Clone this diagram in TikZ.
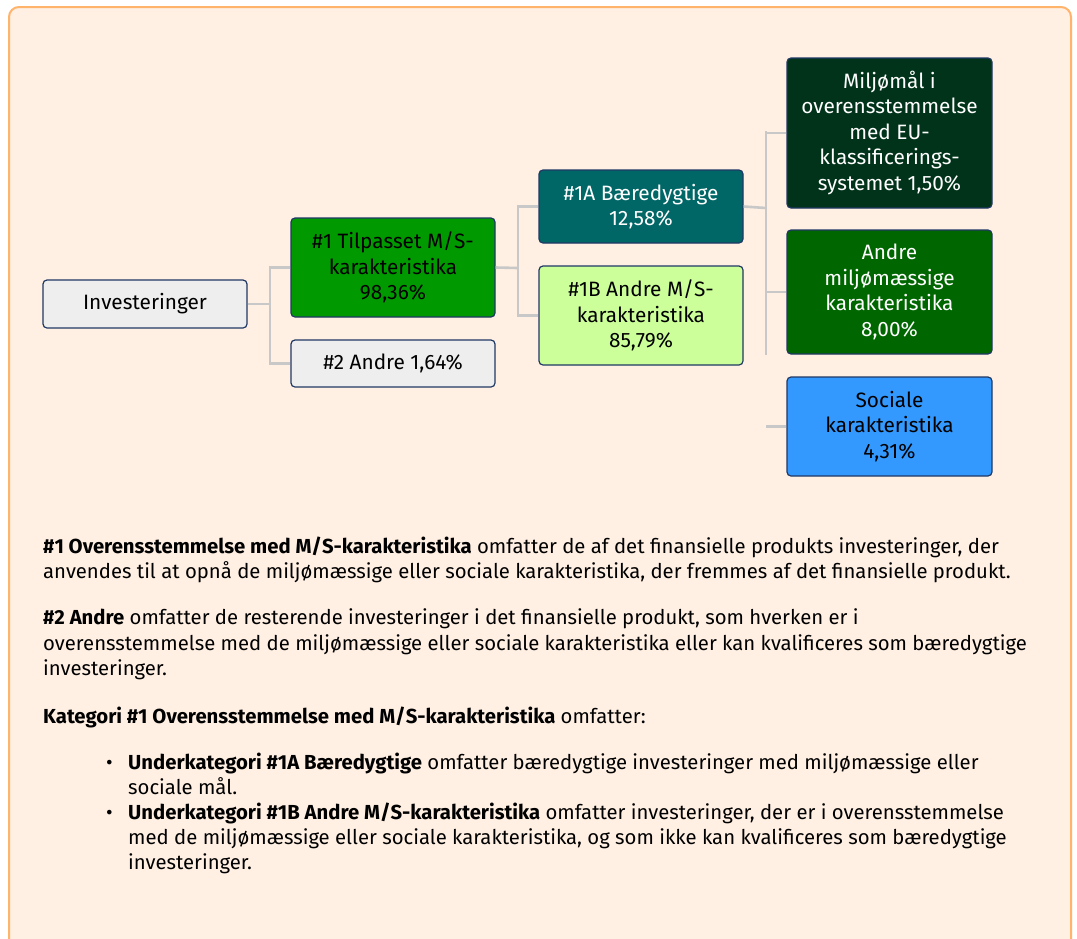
\documentclass[tikz,border=0pt]{standalone}
\usepackage{fontspec}
\setmainfont{Fira Sans}
\definecolor{frameborder}{HTML}{FFB36B}
\definecolor{framefill}{HTML}{FFF0E3}
\definecolor{conncol}{HTML}{C8C8C8}
\definecolor{boxborder}{HTML}{1F3864}
\definecolor{greybox}{HTML}{EEEEEE}
\definecolor{greenbox}{HTML}{009900}
\definecolor{tealbox}{HTML}{006666}
\definecolor{lightbox}{HTML}{CCFF99}
\definecolor{darkbox}{HTML}{003319}
\definecolor{midbox}{HTML}{006600}
\definecolor{bluebox}{HTML}{3399FF}
\tikzset{
  box/.style={draw=boxborder, line width=1.2pt, rounded corners=4pt, align=center,
    inner sep=0pt, font=\fontsize{20.8}{25.5}\selectfont},
  conn/.style={draw=conncol, line width=2.6pt},
  bodyline/.style={anchor=base west, inner sep=0pt, font=\fontsize{20.3}{25}\selectfont},
}
\begin{document}
\begin{tikzpicture}[x=1pt,y=-1pt]
\useasboundingbox (0,0) rectangle (1077,938);
\fill[white] (0,0) rectangle (1077,938);
\draw[draw=frameborder, fill=framefill, line width=2pt, rounded corners=10pt] (9,7) rectangle (1071,960);

% nodes
\node[box, fill=greybox, minimum width=204pt, minimum height=48pt] (inv) at (145,304) {Investeringer};
\node[box, fill=greenbox, minimum width=204pt, minimum height=99pt] (t1) at (393,267.5) {\#1 Tilpasset M/S-\\karakteristika\\98,36\%};
\node[box, fill=greybox, minimum width=204pt, minimum height=47pt] (t2) at (393,363.5) {\#2 Andre 1,64\%};
\node[box, fill=tealbox, text=white, minimum width=204pt, minimum height=73pt] (a1) at (641,206.5) {\#1A Bæredygtige\\12,58\%};
\node[box, fill=lightbox, minimum width=204pt, minimum height=99pt] (b1) at (641,315.5) {\#1B Andre M/S-\\karakteristika\\85,79\%};
\node[box, fill=darkbox, text=white, minimum width=205pt, minimum height=150pt] (env) at (889.5,133) {Miljømål i\\overensstemmelse\\med EU-\\klassificerings-\\systemet 1,50\%};
\node[box, fill=midbox, text=white, minimum width=205pt, minimum height=124pt] (oth) at (889.5,292) {Andre\\miljømæssige\\karakteristika\\8,00\%};
\node[box, fill=bluebox, minimum width=205pt, minimum height=99pt] (soc) at (889.5,426.5) {Sociale\\karakteristika\\4,31\%};

% connectors
\coordinate (bus1) at (270,304);
\coordinate (bus2) at (518,268);
\coordinate (bus3) at (766,208);
\draw[conn] (inv.east) -- (bus1);
\draw[conn] (t1.west) -- (t1.west -| bus1) -- (t2.west -| bus1) -- (t2.west);
\draw[conn] (t1.east) -- (bus2);
\draw[conn] (a1.west) -- (a1.west -| bus2) -- (b1.west -| bus2) -- (b1.west);
\draw[conn] (a1.east) -- (bus3);
\coordinate (bus3top) at (766,131);
\coordinate (bus3bot) at (766,355);
\draw[conn] (bus3top) -- (bus3bot);
\draw[conn] (env.west) -- (env.west -| bus3);
\draw[conn] (oth.west) -- (oth.west -| bus3);
\draw[conn] (soc.west) -- (soc.west -| bus3);

% body text
\node[bodyline] (l1) at (43,553) {\textbf{\#1 Overensstemmelse med M/S-karakteristika} omfatter de af det finansielle produkts investeringer, der};
\node[bodyline] (l2) at (43,578) {anvendes til at opnå de miljømæssige eller sociale karakteristika, der fremmes af det finansielle produkt.};
\node[bodyline] (l3) at (43,624) {\textbf{\#2 Andre} omfatter de resterende investeringer i det finansielle produkt, som hverken er i};
\node[bodyline] (l4) at (43,650) {overensstemmelse med de miljømæssige eller sociale karakteristika eller kan kvalificeres som bæredygtige};
\node[bodyline] (l5) at (43,675) {investeringer.};
\node[bodyline] (l6) at (43,723) {\textbf{Kategori \#1 Overensstemmelse med M/S-karakteristika} omfatter:};
\node[bodyline] (d1) at (106,769) {•};
\node[bodyline] (l7) at (128,769) {\textbf{Underkategori \#1A Bæredygtige} omfatter bæredygtige investeringer med miljømæssige eller};
\node[bodyline] (l8) at (128,794) {sociale mål.};
\node[bodyline] (d2) at (106,819) {•};
\node[bodyline] (l9) at (128,819) {\textbf{Underkategori \#1B Andre M/S-karakteristika} omfatter investeringer, der er i overensstemmelse};
\node[bodyline] (l10) at (128,844) {med de miljømæssige eller sociale karakteristika, og som ikke kan kvalificeres som bæredygtige};
\node[bodyline] (l11) at (128,869) {investeringer.};
\end{tikzpicture}
\end{document}
